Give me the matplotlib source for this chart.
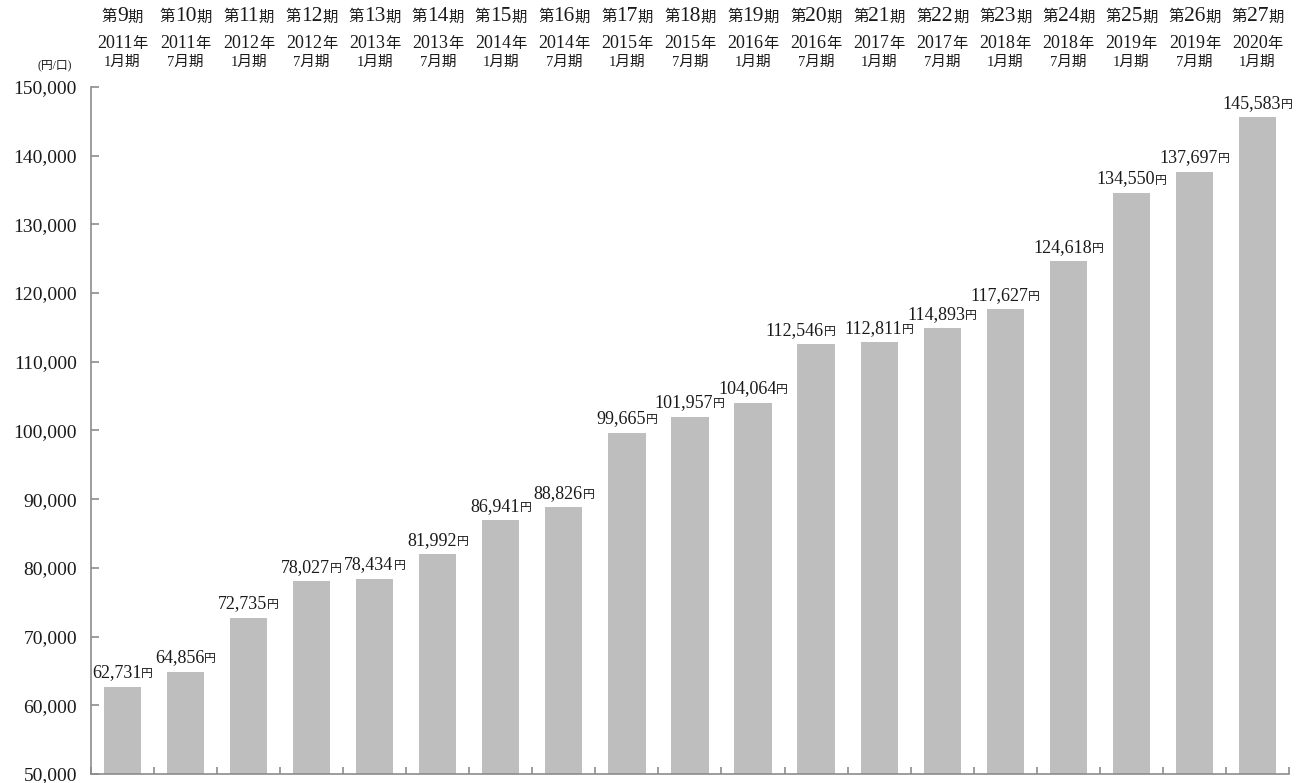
import matplotlib
matplotlib.use("Agg")
import numpy as np
from matplotlib import pyplot as plt
from matplotlib.offsetbox import TextArea, HPacker, AnnotationBbox

plt.rcParams['font.family'] = ['Liberation Serif', 'Noto Sans CJK JP']

# 決算期ごとの1口当たり分配金(円/口)
period_no = ['9', '10', '11', '12', '13', '14', '15', '16', '17', '18', '19',
             '20', '21', '22', '23', '24', '25', '26', '27']
years = ['2011', '2011', '2012', '2012', '2013', '2013', '2014', '2014',
         '2015', '2015', '2016', '2016', '2017', '2017', '2018', '2018',
         '2019', '2019', '2020']
months = ['1月期', '7月期', '1月期', '7月期', '1月期', '7月期', '1月期',
          '7月期', '1月期', '7月期', '1月期', '7月期', '1月期', '7月期',
          '1月期', '7月期', '1月期', '7月期', '1月期']
values = [62731, 64856, 72735, 78027, 78434, 81992, 86941, 88826, 99665,
          101957, 104064, 112546, 112811, 114893, 117627, 124618, 134550,
          137697, 145583]
y_ticks = [50000, 60000, 70000, 80000, 90000, 100000, 110000, 120000,
           130000, 140000, 150000]

txt = '#1a1a1a'
axis_c = '#8c8c8c'
label_nudge = {11: -11}  # 重なり回避(ポイント)

fig = plt.figure(figsize=(13.07, 7.83), dpi=100)
ax = fig.add_axes([0.0696, 0.0115, 0.9166, 0.8774])

x = np.arange(len(values))
ax.bar(x, values, width=0.59, color='#bebebe', zorder=2)

ax.set_xlim(-0.5, len(values) - 0.5)
ax.set_ylim(50000, 150000)

# 軸
for s in ['top', 'right']:
    ax.spines[s].set_visible(False)
for s in ['left', 'bottom']:
    ax.spines[s].set_color(axis_c)
    ax.spines[s].set_linewidth(1.2)

ax.set_yticks(y_ticks)
ax.set_yticklabels([f'{v:,}' for v in y_ticks], fontsize=14, color=txt)
ax.tick_params(axis='y', direction='in', length=6, color=axis_c, width=1.2, pad=10)

ax.set_xticks(np.arange(len(values) + 1) - 0.5)
ax.set_xticklabels([])
ax.tick_params(axis='x', direction='in', length=5, color=axis_c, width=1.2)


def mixed(parts):
    """サイズの違う文字列を横に並べる"""
    kids = [TextArea(s, textprops=dict(fontsize=fs, color=txt)) for s, fs in parts]
    return HPacker(children=kids, align='baseline', pad=0, sep=0)


# 分配金ラベル
for i, (xi, v) in enumerate(zip(x, values)):
    box = mixed([(f'{v:,}', 13), ('円', 8.5)])
    ab = AnnotationBbox(box, (xi, v), xybox=(label_nudge.get(i, 0), 4),
                        xycoords='data', boxcoords='offset points',
                        box_alignment=(0.5, 0), frameon=False, pad=0)
    ax.add_artist(ab)

# 上部の期ラベル
tr = ax.get_xaxis_transform()
for xi, p, yr, m in zip(x, period_no, years, months):
    rows = [(mixed([('第', 11), (p, 15.5), ('期', 11)]), 1.1019),
            (mixed([(yr, 13), ('年', 11)]), 1.0626),
            (mixed([(m, 10.5)]), 1.0364)]
    for box, yy in rows:
        ab = AnnotationBbox(box, (xi, yy), xycoords=tr, box_alignment=(0.5, 0.5),
                            frameon=False, pad=0, annotation_clip=False)
        ax.add_artist(ab)

fig.text(55 / 1307, 1 - 65 / 783, '(円/口)', ha='center', va='center',
         fontsize=8.5, color=txt)

fig.savefig('out.png', dpi=100)
